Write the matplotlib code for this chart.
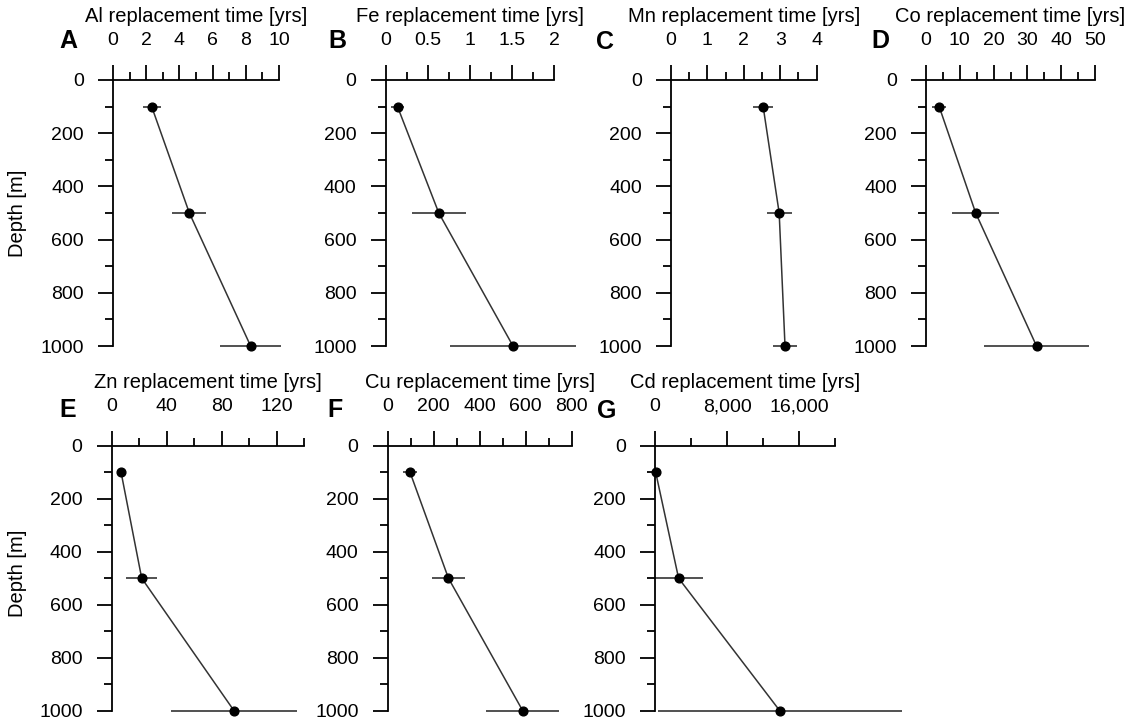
import matplotlib
matplotlib.use("Agg")
import matplotlib.pyplot as plt
from matplotlib.ticker import MultipleLocator, FuncFormatter

plt.rcParams['font.family'] = ['Liberation Sans', 'DejaVu Sans']

# ---- data ----
depth = [100, 500, 1000]

al = [2.33, 4.6, 8.29]
al_err = [0.54, 1.03, 1.83]
fe = [0.14, 0.63, 1.51]
fe_err = [0.075, 0.32, 0.745]
mn = [2.53, 2.97, 3.13]
mn_err = [0.28, 0.34, 0.34]
co = [3.9, 14.7, 32.7]
co_err = [2.1, 6.9, 15.4]
zn = [6.8, 21.8, 88.9]
zn_err = [2.5, 11.4, 45.8]
cu = [97, 264, 587]
cu_err = [29, 72, 158]
cd = [75, 2620, 13860]
cd_err = [300, 2700, 13550]

titles = ["Al replacement time [yrs]", "Fe replacement time [yrs]",
          "Mn replacement time [yrs]", "Co replacement time [yrs]",
          "Zn replacement time [yrs]", "Cu replacement time [yrs]",
          "Cd replacement time [yrs]"]
letters = ["A", "B", "C", "D", "E", "F", "G"]

W, H = 1133, 723
fig = plt.figure(figsize=(W / 100, H / 100), dpi=100)

# pixel layout: (x0, x1, y_top, y_bottom), xmax, major, minor
panels = [
    (al, al_err, (113, 279, 80, 346), 10, 2, 1, None),
    (fe, fe_err, (385.7, 554.3, 80, 346), 2, 0.5, 0.25, None),
    (mn, mn_err, (671, 816.7, 80, 346), 4, 1, 0.5, None),
    (co, co_err, (926, 1095, 80, 346), 50, 10, 5, None),
    (zn, zn_err, (111.7, 304.3, 445.7, 710.7), 140, 40, 20, None),
    (cu, cu_err, (387.7, 571.7, 445.7, 710.7), 800, 200, 100, None),
    (cd, cd_err, (655, 835, 445.7, 710.7), 20000, 8000, 4000, 'comma'),
]
letter_pos = [(68, 41), (337, 41), (605, 42), (880, 41),
              (68, 410), (335, 410), (607, 411)]

for i, (vals, errs, (x0, x1, yt, yb), xmax, maj, mnr, fmt) in enumerate(panels):
    ax = fig.add_axes([x0 / W, 1 - yb / H, (x1 - x0) / W, (yb - yt) / H])
    ax.set_xlim(0, xmax)
    ax.set_ylim(1000, 0)
    ax.patch.set_alpha(0)
    for s in ['right', 'bottom']:
        ax.spines[s].set_visible(False)
    for s in ['left', 'top']:
        ax.spines[s].set_linewidth(1.3)
    ax.xaxis.tick_top()
    ax.xaxis.set_major_locator(MultipleLocator(maj))
    ax.xaxis.set_minor_locator(MultipleLocator(mnr))
    ax.yaxis.set_major_locator(MultipleLocator(200))
    ax.yaxis.set_minor_locator(MultipleLocator(100))
    if fmt == 'comma':
        ax.xaxis.set_major_formatter(FuncFormatter(lambda v, p: f"{int(v):,}"))
    else:
        ax.xaxis.set_major_formatter(FuncFormatter(lambda v, p: f"{v:g}"))
    ax.yaxis.set_major_formatter(FuncFormatter(lambda v, p: f"{int(v)}"))
    ax.tick_params(which='major', direction='out', length=11, width=1.3,
                   labelsize=14, colors='black')
    ax.tick_params(axis='y', which='major', pad=10)
    ax.tick_params(axis='x', which='major', pad=11)
    ax.tick_params(which='minor', direction='out', length=6, width=1.3)
    ax.tick_params(axis='x', which='both', top=True, bottom=False,
                   labeltop=True, labelbottom=False)

    ax.plot(vals, depth, color='#333333', lw=1.1, clip_on=False, zorder=2)
    ax.hlines(depth, [v - e for v, e in zip(vals, errs)],
              [v + e for v, e in zip(vals, errs)], color='#222222',
              lw=1.1, clip_on=False, zorder=2)
    ax.plot(vals, depth, 'o', color='black', ms=6.3, clip_on=False, zorder=3)

    cx = (x0 + x1) / 2
    ty = 16 if yt < 200 else 382
    fig.text(cx / W, 1 - ty / H, titles[i], ha='center', va='center',
             fontsize=14.5)
    lx, ly = letter_pos[i]
    fig.text(lx / W, 1 - ly / H, letters[i], ha='center', va='center',
             fontsize=18, fontweight='bold')

fig.text(18 / W, 1 - 213 / H, "Depth [m]", rotation=90, ha='center',
         va='center', fontsize=14.5)
fig.text(18 / W, 1 - 573 / H, "Depth [m]", rotation=90, ha='center',
         va='center', fontsize=14.5)

fig.savefig("out.png", dpi=100)
